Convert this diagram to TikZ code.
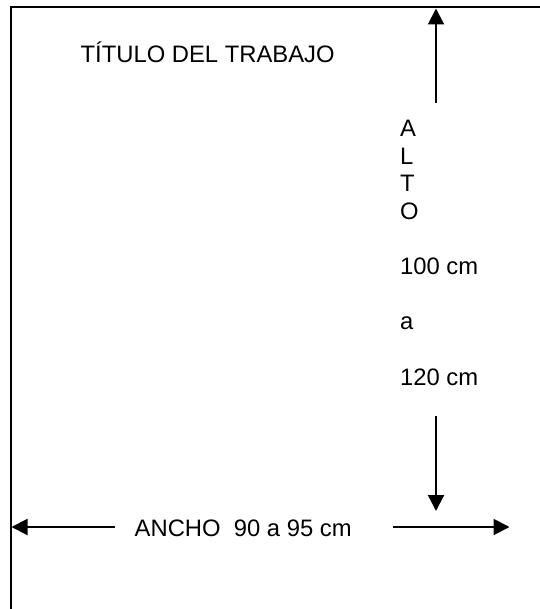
\documentclass[tikz,border=0pt]{standalone}
\usepackage{fontspec}
\setmainfont{Liberation Sans}
\usetikzlibrary{arrows.meta}
\begin{document}
\begin{tikzpicture}[x=1pt,y=-1pt,
  frame/.style={line width=2pt, line cap=rect},
  dimarrow/.style={line width=2pt, -{Triangle[length=16pt,width=16pt]}},
  lbl/.style={inner sep=0pt, font=\fontsize{23.8}{27.6}\selectfont, anchor=base west}]
\useasboundingbox (0,0) rectangle (539,609);
% frame
\coordinate (tl) at (11,7.5);
\coordinate (tr) at (539,7.5);
\coordinate (bl) at (11,609);
\draw[frame] (bl) -- (tl) -- (tr);
% texts
\node[lbl] (title) at (80.5,63) {TÍTULO DEL TRABAJO};
\node[lbl, align=left] (alto) at (400,385) {A\\L\\T\\O\\[27.6pt]100 cm\\[27.6pt]a\\[27.6pt]120 cm};
\node[lbl] (ancho) at (134.5,536.7) {ANCHO\ \ 90 a 95 cm};
% arrow end points
\coordinate (upS) at (436,103);
\coordinate (upE) at (436,8.5);
\coordinate (dnS) at (436,416);
\coordinate (dnE) at (436,511);
\coordinate (ltS) at (115,527);
\coordinate (ltE) at (11.5,527);
\coordinate (rtS) at (393,527);
\coordinate (rtE) at (509.5,527);
\draw[dimarrow] (upS) -- (upE);
\draw[dimarrow] (dnS) -- (dnE);
\draw[dimarrow] (ltS) -- (ltE);
\draw[dimarrow] (rtS) -- (rtE);
\end{tikzpicture}
\end{document}
